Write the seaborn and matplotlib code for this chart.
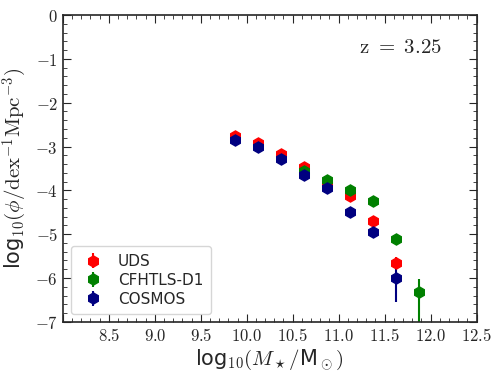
import numpy as np
import matplotlib
matplotlib.use("Agg")
import matplotlib.pyplot as plt
import seaborn as sns
from matplotlib.ticker import MultipleLocator, FuncFormatter

# stellar mass bins
mass_uds = [9.875, 10.125, 10.375, 10.625, 10.875, 11.125, 11.375, 11.625]
phi_uds = [-2.75, -2.91, -3.17, -3.47, -3.81, -4.12, -4.69, -5.65]
err_uds = [0.03, 0.03, 0.03, 0.04, 0.04, 0.05, 0.07, 0.13]

mass_cfh = [10.625, 10.875, 11.125, 11.375, 11.625, 11.875]
phi_cfh = [-3.55, -3.76, -4.00, -4.24, -5.11, -6.32]
err_cfh_lo = [0.04, 0.04, 0.05, 0.06, 0.08, 1.0]
err_cfh_hi = [0.04, 0.04, 0.05, 0.06, 0.08, 0.29]

mass_cos = [9.875, 10.125, 10.375, 10.625, 10.875, 11.125, 11.375, 11.625]
phi_cos = [-2.85, -3.02, -3.29, -3.65, -3.94, -4.50, -4.94, -6.00]
err_cos_lo = [0.03, 0.03, 0.03, 0.04, 0.04, 0.05, 0.07, 0.54]
err_cos_hi = [0.03, 0.03, 0.03, 0.04, 0.04, 0.05, 0.07, 0.23]

sns.set_style("ticks")
plt.rcParams["mathtext.fontset"] = "cm"
plt.rcParams["font.family"] = ["DejaVu Sans"]

fig = plt.figure(figsize=(4.99, 3.76), dpi=100)
ax = fig.add_axes([0.126, 0.144, 0.829, 0.816])

ax.errorbar(mass_uds, phi_uds, yerr=err_uds, fmt="h", color="red", ms=8,
            elinewidth=1.5, label="UDS")
ax.errorbar(mass_cfh, phi_cfh, yerr=[err_cfh_lo, err_cfh_hi], fmt="h", color="green",
            ms=8, elinewidth=1.5, label="CFHTLS-D1")
ax.errorbar(mass_cos, phi_cos, yerr=[err_cos_lo, err_cos_hi], fmt="h", color="navy",
            ms=8, elinewidth=1.5, label="COSMOS")

ax.set_xlim(8.0, 12.5)
ax.set_ylim(-7, 0)
ax.xaxis.set_major_locator(MultipleLocator(0.5))
ax.xaxis.set_minor_locator(MultipleLocator(0.1))
ax.yaxis.set_major_locator(MultipleLocator(1))
ax.yaxis.set_minor_locator(MultipleLocator(0.2))
ax.xaxis.set_major_formatter(FuncFormatter(lambda v, p: "" if v < 8.4 else r"$%.1f$" % v))
ax.yaxis.set_major_formatter(FuncFormatter(lambda v, p: r"$%d$" % round(v)))
ax.tick_params(which="both", direction="in", top=True, right=True, labelsize=12)
ax.tick_params(which="major", length=6)
ax.tick_params(which="minor", length=3)
for s in ax.spines.values():
    s.set_linewidth(1.2)

ax.set_xlabel(r"log$_{10}(M_\star/$M$_\odot)$", fontsize=15, labelpad=2)
ax.set_ylabel(r"log$_{10}(\phi/\mathrm{dex}^{-1}\mathrm{Mpc}^{-3})$", fontsize=15, labelpad=4)

ax.text(0.815, 0.895, r"$\mathrm{z\ =\ 3.25}$", transform=ax.transAxes,
        fontsize=15, ha="center", va="center")

ax.legend(loc="lower left", fontsize=11, handletextpad=0.6, borderpad=0.5,
          labelspacing=0.25, frameon=True)

fig.savefig("out.png", dpi=100)
